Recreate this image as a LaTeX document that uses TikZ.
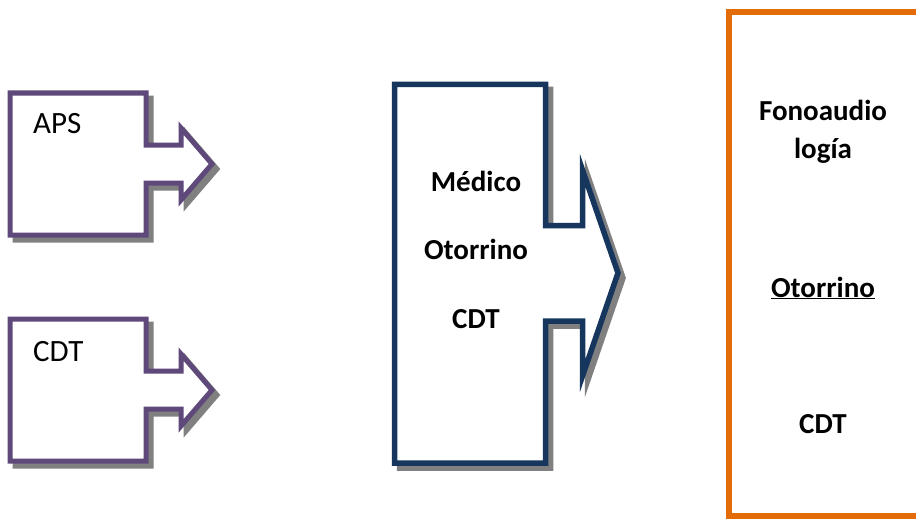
\documentclass[tikz,border=0pt]{standalone}
\usepackage{fontspec}
\setmainfont{Carlito}
\definecolor{purp}{HTML}{5F497A}
\definecolor{navy}{HTML}{17365D}
\definecolor{orng}{HTML}{E36C09}
\definecolor{shad}{HTML}{808080}
\begin{document}
\begin{tikzpicture}[x=1pt,y=-1pt,
  shadowshape/.style={fill=shad,draw=shad,line width=5pt},
  purpshape/.style={fill=white,draw=purp,line width=5pt},
  navyshape/.style={fill=white,draw=navy,line width=5.5pt},
  orangebox/.style={draw=orng,line width=6pt},
  lbl/.style={anchor=base,inner sep=0pt,font=\fontsize{31}{37}\selectfont},
  blbl/.style={anchor=base,inner sep=0pt,font=\fontsize{29}{35}\selectfont\bfseries}]
\clip (0,0) rectangle (916,519);
\fill[white] (0,0) rectangle (916,519);
% left arrow shapes
\foreach \dy in {0,226} {
  \draw[shadowshape,shift={(5,5+\dy)}] (10,93) -- (146,93) -- (146,145) -- (181,145) -- (181,128) -- (212,164) -- (181,200) -- (181,183) -- (146,183) -- (146,235) -- (10,235) -- cycle;
}
\foreach \dy in {0,226} {
  \draw[purpshape,shift={(0,\dy)}] (10,93) -- (146,93) -- (146,145) -- (181,145) -- (181,128) -- (212,164) -- (181,200) -- (181,183) -- (146,183) -- (146,235) -- (10,235) -- cycle;
}
% middle shape
\draw[shadowshape,line width=5.5pt,shift={(5,5)}] (394.5,84.5) -- (545.5,84.5) -- (545.5,225.5) -- (582.5,225.5) -- (582.5,170) -- (618,273) -- (582.5,376) -- (582.5,321) -- (545.5,321) -- (545.5,463) -- (394.5,463) -- cycle;
\draw[navyshape] (394.5,84.5) -- (545.5,84.5) -- (545.5,225.5) -- (582.5,225.5) -- (582.5,170) -- (618,273) -- (582.5,376) -- (582.5,321) -- (545.5,321) -- (545.5,463) -- (394.5,463) -- cycle;
% right box
\draw[orangebox] (729,12) rectangle (930,516);
% texts
\node[lbl,anchor=base west] (aps) at (33,133) {APS};
\node[lbl,anchor=base west] (cdtl) at (33,361) {CDT};
\node[blbl] (med) at (476,191) {Médico};
\node[blbl] (oto) at (476,259) {Otorrino};
\node[blbl] (cdtm) at (476,328) {CDT};
\node[blbl] (fono) at (823,120) {Fonoaudio};
\node[blbl] (logia) at (823,158) {logía};
\node[blbl] (otor) at (823,297) {\underline{Otorrino}};
\node[blbl] (cdtr) at (823,433) {CDT};
\end{tikzpicture}
\end{document}
